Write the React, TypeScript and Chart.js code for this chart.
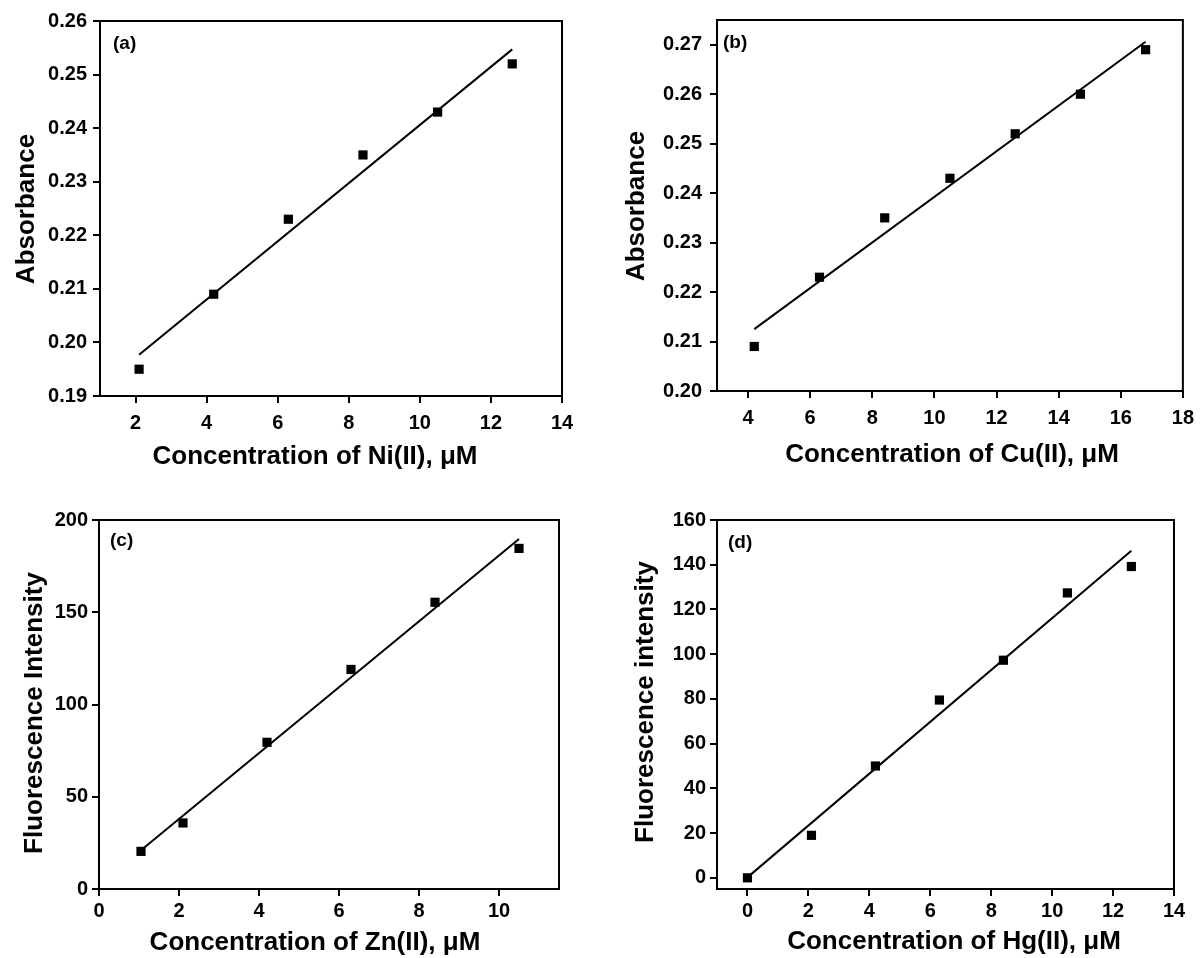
import React, { useEffect, useRef } from "react";
import { Chart, registerables } from "chart.js";

Chart.register(...registerables);

const FONT = "'Liberation Sans', Arial, Helvetica, sans-serif";

// ---------- Panel (a): Ni(II), absorbance ----------
const niConc = [2.1, 4.2, 6.3, 8.4, 10.5, 12.6];
const niAbs = [0.195, 0.209, 0.223, 0.235, 0.243, 0.252];
const niFitConc = [2.1, 12.6];
const niFitAbs = [0.1977, 0.2547];
const niXTicks = [2, 4, 6, 8, 10, 12, 14];
const niYTicks = [0.19, 0.2, 0.21, 0.22, 0.23, 0.24, 0.25, 0.26];

// ---------- Panel (b): Cu(II), absorbance ----------
const cuConc = [4.2, 6.3, 8.4, 10.5, 12.6, 14.7, 16.8];
const cuAbs = [0.209, 0.223, 0.235, 0.243, 0.252, 0.26, 0.269];
const cuFitConc = [4.2, 16.8];
const cuFitAbs = [0.2125, 0.2706];
const cuXTicks = [4, 6, 8, 10, 12, 14, 16, 18];
const cuYTicks = [0.2, 0.21, 0.22, 0.23, 0.24, 0.25, 0.26, 0.27];

// ---------- Panel (c): Zn(II), fluorescence ----------
const znConc = [1.05, 2.1, 4.2, 6.3, 8.4, 10.5];
const znFluo = [20.4, 35.8, 79.5, 119, 155.4, 184.6];
const znFitConc = [1.05, 10.5];
const znFitFluo = [21, 189.7];
const znXTicks = [0, 2, 4, 6, 8, 10];
const znYTicks = [0, 50, 100, 150, 200];

// ---------- Panel (d): Hg(II), fluorescence ----------
const hgConc = [0, 2.1, 4.2, 6.3, 8.4, 10.5, 12.6];
const hgFluo = [0, 19, 50, 79.5, 97.3, 127.4, 139.2];
const hgFitConc = [0, 12.6];
const hgFitFluo = [0.2, 146.2];
const hgXTicks = [0, 2, 4, 6, 8, 10, 12, 14];
const hgYTicks = [0, 20, 40, 60, 80, 100, 120, 140, 160];

type PanelSpec = {
  left: number;
  top: number;
  w: number;
  h: number;
  padTop: number;
  padRight: number;
  yAxisW: number;
  xAxisH: number;
  xMin: number;
  xMax: number;
  yMin: number;
  yMax: number;
  xTicks: number[];
  yTicks: number[];
  yFmt: (v: number) => string;
  xs: number[];
  ys: number[];
  fitXs: number[];
  fitYs: number[];
  tag: string;
  tagDx: number;
  tagDy: number;
  xTitle: string;
  xTitleX: number;
  xTitleY: number;
  yTitle: string;
  yTitleX: number;
  yTitleY: number;
  xTickPad: number;
  yTickPad: number;
};

const fmt2 = (v: number) => v.toFixed(2);
const fmt0 = (v: number) => String(Math.round(v));

const panels: PanelSpec[] = [
  {
    left: 0, top: 0, w: 600, h: 480,
    padTop: 21, padRight: 38, yAxisW: 100, xAxisH: 84,
    xMin: 1, xMax: 14, yMin: 0.19, yMax: 0.26,
    xTicks: niXTicks, yTicks: niYTicks, yFmt: fmt2,
    xs: niConc, ys: niAbs, fitXs: niFitConc, fitYs: niFitAbs,
    tag: "(a)", tagDx: 13, tagDy: 23,
    xTitle: "Concentration of Ni(II), \u03bcM", xTitleX: 315, xTitleY: 457,
    yTitle: "Absorbance", yTitleX: 27, yTitleY: 209,
    xTickPad: 8, yTickPad: 6,
  },
  {
    left: 600, top: 0, w: 602, h: 480,
    padTop: 16, padRight: 13, yAxisW: 117, xAxisH: 89,
    xMin: 3, xMax: 18, yMin: 0.2, yMax: 0.275,
    xTicks: cuXTicks, yTicks: cuYTicks, yFmt: fmt2,
    xs: cuConc, ys: cuAbs, fitXs: cuFitConc, fitYs: cuFitAbs,
    tag: "(b)", tagDx: 6, tagDy: 23,
    xTitle: "Concentration of Cu(II), \u03bcM", xTitleX: 352, xTitleY: 455,
    yTitle: "Absorbance", yTitleX: 37, yTitleY: 206,
    xTickPad: 8, yTickPad: 8,
  },
  {
    left: 0, top: 480, w: 600, h: 478,
    padTop: 40, padRight: 41, yAxisW: 99, xAxisH: 69,
    xMin: 0, xMax: 11.5, yMin: 0, yMax: 200,
    xTicks: znXTicks, yTicks: znYTicks, yFmt: fmt0,
    xs: znConc, ys: znFluo, fitXs: znFitConc, fitYs: znFitFluo,
    tag: "(c)", tagDx: 11, tagDy: 21,
    xTitle: "Concentration of Zn(II), \u03bcM", xTitleX: 315, xTitleY: 463,
    yTitle: "Fluorescence Intensity", yTitleX: 35, yTitleY: 233,
    xTickPad: 3, yTickPad: 4,
  },
  {
    left: 600, top: 480, w: 602, h: 478,
    padTop: 40, padRight: 28, yAxisW: 117, xAxisH: 69,
    xMin: -1, xMax: 14, yMin: -5, yMax: 160,
    xTicks: hgXTicks, yTicks: hgYTicks, yFmt: fmt0,
    xs: hgConc, ys: hgFluo, fitXs: hgFitConc, fitYs: hgFitFluo,
    tag: "(d)", tagDx: 11, tagDy: 23,
    xTitle: "Concentration of Hg(II), \u03bcM", xTitleX: 354, xTitleY: 462,
    yTitle: "Fluorescence intensity", yTitleX: 46, yTitleY: 222,
    xTickPad: 3, yTickPad: 4,
  },
];

function Panel({ spec }: { spec: PanelSpec }) {
  const ref = useRef<HTMLCanvasElement>(null);

  useEffect(() => {
    const canvas = ref.current;
    if (!canvas) return;

    const decor = {
      id: "decor",
      afterDraw(chart: any) {
        const { ctx, chartArea: a } = chart;
        ctx.save();
        ctx.strokeStyle = "#000";
        ctx.lineWidth = 2;
        ctx.strokeRect(a.left, a.top, a.right - a.left, a.bottom - a.top);
        ctx.fillStyle = "#000";
        ctx.textBaseline = "middle";
        ctx.textAlign = "left";
        ctx.font = `bold 19px ${FONT}`;
        ctx.fillText(spec.tag, a.left + spec.tagDx, a.top + spec.tagDy);
        ctx.font = `bold 26px ${FONT}`;
        ctx.textAlign = "center";
        ctx.fillText(spec.xTitle, spec.xTitleX, spec.xTitleY);
        ctx.translate(spec.yTitleX, spec.yTitleY);
        ctx.rotate(-Math.PI / 2);
        ctx.fillText(spec.yTitle, 0, 0);
        ctx.restore();
      },
    };

    const tickFont = { family: FONT, size: 20, weight: "bold" as const };
    const gridOpts = {
      display: true,
      drawOnChartArea: false,
      drawTicks: true,
      tickLength: 7,
      color: "#000",
      lineWidth: 2,
    };

    const chart = new Chart(canvas, {
      type: "scatter",
      data: {
        datasets: [
          {
            type: "scatter",
            data: spec.xs.map((x, i) => ({ x, y: spec.ys[i] })),
            pointStyle: "rect",
            pointRadius: 6.5,
            pointBorderWidth: 0,
            backgroundColor: "#000",
            borderColor: "#000",
            showLine: false,
          },
          {
            type: "line",
            data: spec.fitXs.map((x, i) => ({ x, y: spec.fitYs[i] })),
            borderColor: "#000",
            borderWidth: 2,
            pointRadius: 0,
            fill: false,
            showLine: true,
          },
        ],
      },
      options: {
        responsive: false,
        animation: false,
        events: [],
        layout: {
          padding: { top: spec.padTop, right: spec.padRight, left: 0, bottom: 0 },
        },
        plugins: {
          legend: { display: false },
          tooltip: { enabled: false },
        },
        scales: {
          x: {
            type: "linear",
            min: spec.xMin,
            max: spec.xMax,
            afterBuildTicks: (ax: any) => {
              ax.ticks = spec.xTicks.map((v) => ({ value: v }));
            },
            afterFit: (ax: any) => {
              ax.height = spec.xAxisH;
            },
            grid: gridOpts,
            border: { display: false },
            ticks: {
              color: "#000",
              font: tickFont,
              padding: spec.xTickPad,
              maxRotation: 0,
              autoSkip: false,
              callback: (v: any) => fmt0(Number(v)),
            },
            title: { display: false },
          },
          y: {
            type: "linear",
            min: spec.yMin,
            max: spec.yMax,
            afterBuildTicks: (ax: any) => {
              ax.ticks = spec.yTicks.map((v) => ({ value: v }));
            },
            afterFit: (ax: any) => {
              ax.width = spec.yAxisW;
            },
            grid: gridOpts,
            border: { display: false },
            ticks: {
              color: "#000",
              font: tickFont,
              padding: spec.yTickPad,
              autoSkip: false,
              callback: (v: any) => spec.yFmt(Number(v)),
            },
            title: { display: false },
          },
        },
      } as any,
      plugins: [decor],
    });

    return () => chart.destroy();
  }, [spec]);

  return (
    <canvas
      ref={ref}
      width={spec.w}
      height={spec.h}
      style={{
        position: "absolute",
        left: spec.left,
        top: spec.top,
        width: spec.w,
        height: spec.h,
      }}
    />
  );
}

export default function App() {
  return (
    <div
      style={{
        position: "absolute",
        left: 0,
        top: 0,
        width: 1202,
        height: 958,
        background: "#fff",
      }}
    >
      {panels.map((p, i) => (
        <Panel key={i} spec={p} />
      ))}
    </div>
  );
}
